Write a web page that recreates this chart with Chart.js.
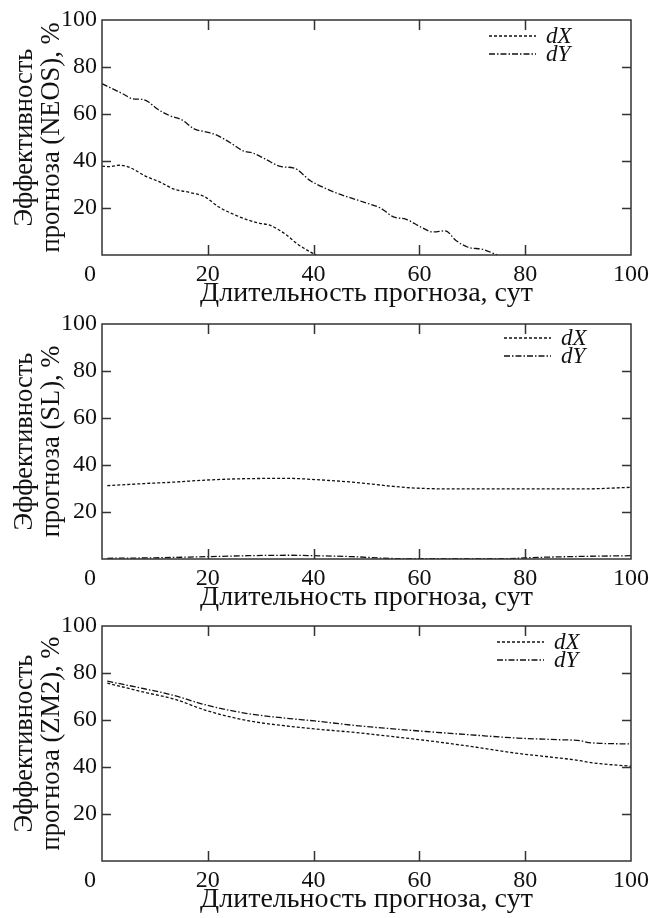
<!DOCTYPE html>
<html>
<head>
<meta charset="utf-8">
<script src="https://cdn.jsdelivr.net/npm/chart.js@4"></script>
<style>
  body { margin: 0; background: #fff; width: 649px; height: 918px; position: relative; overflow: hidden; }
  canvas { position: absolute; left: 0; }
</style>
</head>
<body>
<canvas id="neosChart" width="649" height="312" style="top:0"></canvas>
<canvas id="slChart" width="649" height="312" style="top:304px"></canvas>
<canvas id="zm2Chart" width="649" height="312" style="top:606px"></canvas>
<script>
// tick values and labels
const xTicks = [0, 20, 40, 60, 80, 100];
const yTicks = [20, 40, 60, 80, 100];
const seriesLabels = ["dX", "dY"];
const xTitle = "Длительность прогноза, сут";

// NEOS panel
const neosDxDays = [0, 1.5, 3.3, 5.7, 8, 11.1, 13.5, 16.6, 19.4, 22.1, 25.3, 27.6, 30, 31.6, 34.7, 37, 39.2, 40.5];
const neosDx = [37.8, 37.6, 38.2, 36.8, 33.8, 30.9, 28.1, 26.6, 24.8, 20.4, 16.9, 14.9, 13.4, 12.8, 8.8, 4.6, 1.5, 0];
const neosDyDays = [0, 4.1, 5.7, 7.6, 8.8, 10.4, 12.7, 15.1, 17.4, 19.8, 21.4, 24.1, 26.8, 28.4, 30.8, 33.9, 36.3, 39.4, 42.5, 44.9, 47.3, 49.6, 52.7, 55.1, 57.5, 60.2, 62.6, 64.9, 66.9, 69.2, 72, 74.7];
const neosDy = [72.9, 68.4, 66.5, 66.2, 65.1, 62.2, 59.4, 57.5, 53.7, 52.3, 51.3, 48, 44.2, 43.5, 40.9, 37.6, 37, 31.6, 28.1, 25.9, 24.1, 22.4, 19.9, 16.2, 15.2, 12, 9.8, 10.3, 6.2, 3.3, 2.4, 0];

// SL panel
const slDxDays = [1, 8, 13.5, 19.8, 27.6, 35.5, 40.2, 47.3, 55.1, 59.1, 66.9, 74.8, 82.7, 90.6, 100];
const slDx = [31.2, 32.1, 32.7, 33.6, 34.2, 34.3, 33.8, 32.7, 30.9, 30.2, 29.8, 29.8, 29.8, 29.8, 30.5];
const slDyDays = [1, 10, 19.8, 27.6, 35.5, 40.2, 47.3, 55.1, 63, 74.8, 82.7, 90.6, 100];
const slDy = [0.3, 0.5, 1.0, 1.4, 1.6, 1.4, 1.0, 0.2, 0.1, 0.1, 0.7, 1.1, 1.4];

// ZM2 panel
const zmDays = [1, 8, 13.5, 19.8, 27.6, 35.5, 40.2, 47.3, 55.1, 63, 70.8, 78.6, 86.5, 90.4, 92, 100];
const zmDx = [75.7, 71.8, 69.0, 64.0, 59.7, 57.3, 56.2, 54.8, 52.9, 50.8, 48.4, 45.8, 43.8, 42.7, 42.0, 40.3];
const zmDy = [76.5, 73.3, 70.5, 66.3, 62.7, 60.6, 59.6, 57.8, 56.2, 54.8, 53.5, 52.3, 51.6, 51.2, 50.4, 49.8];

const serif = "'Liberation Serif', 'Times New Roman', serif";
const ink = "#111";
const dashX = [3, 2];
const dashY = [6, 2, 1.5, 2];

function pts(days, vals) {
  return days.map((d, i) => ({ x: d, y: vals[i] }));
}

// frame with inward ticks on all four sides, plus the legend inside the plot
const frameLegend = {
  id: "frameLegend",
  afterDraw(chart, args, opts) {
    const { ctx, chartArea: a } = chart;
    const x = chart.scales.x, y = chart.scales.y;
    ctx.save();
    ctx.strokeStyle = "#333";
    ctx.lineWidth = 1.5;
    ctx.setLineDash([]);
    ctx.strokeRect(a.left, a.top, a.right - a.left, a.bottom - a.top);
    ctx.beginPath();
    xTicks.slice(1, -1).forEach((v) => {
      const px = Math.round(x.getPixelForValue(v)) + 0.5;
      ctx.moveTo(px, a.bottom); ctx.lineTo(px, a.bottom - 10);
      ctx.moveTo(px, a.top); ctx.lineTo(px, a.top + 10);
    });
    yTicks.slice(0, -1).forEach((v) => {
      const py = Math.round(y.getPixelForValue(v)) + 0.5;
      ctx.moveTo(a.left, py); ctx.lineTo(a.left + 9, py);
      ctx.moveTo(a.right, py); ctx.lineTo(a.right - 9, py);
    });
    ctx.stroke();

    // legend
    ctx.font = "italic 23px " + serif;
    ctx.textBaseline = "middle";
    ctx.fillStyle = ink;
    chart.data.datasets.forEach((ds, i) => {
      const ly = a.top + opts.top + i * 18;
      const lx = a.right - opts.right;
      ctx.strokeStyle = ink;
      ctx.lineWidth = 1.3;
      ctx.setLineDash(ds.borderDash);
      ctx.beginPath();
      ctx.moveTo(lx, ly); ctx.lineTo(lx + 47, ly);
      ctx.stroke();
      ctx.fillText(ds.label, lx + 57, ly + 1);
    });
    ctx.restore();
  },
};

function makeChart(id, name, dx, dy, legendPos) {
  return new Chart(document.getElementById(id), {
    type: "line",
    data: {
      datasets: [
        { label: seriesLabels[0], data: dx, borderColor: ink, borderWidth: 1.3, borderDash: dashX },
        { label: seriesLabels[1], data: dy, borderColor: ink, borderWidth: 1.3, borderDash: dashY },
      ],
    },
    options: {
      responsive: false,
      animation: false,
      events: [],
      layout: { padding: { top: 20, right: 18, left: 0, bottom: 0 } },
      elements: {
        point: { radius: 0 },
        line: { cubicInterpolationMode: "monotone", fill: false },
      },
      plugins: {
        legend: { display: false },
        tooltip: { enabled: false },
        frameLegend: legendPos,
      },
      scales: {
        x: {
          type: "linear",
          min: 0,
          max: 100,
          afterFit: (s) => {
            s.height = 57;
            s.paddingLeft = 0;
            s.paddingRight = 0;
          },
          afterBuildTicks: (s) => { s.ticks = xTicks.map((v) => ({ value: v })); },
          grid: { display: false, drawTicks: false },
          border: { display: false },
          ticks: {
            color: ink,
            padding: 5,
            maxRotation: 0,
            font: { family: serif, size: 24 },
            callback: (v) => (v === 0 ? "0    " : String(v)),
          },
          title: {
            display: true,
            text: xTitle,
            color: ink,
            font: { family: serif, size: 28 },
            padding: { top: 0, bottom: 2 },
          },
        },
        y: {
          min: 0,
          max: 100,
          afterFit: (s) => { s.width = 102; },
          afterBuildTicks: (s) => { s.ticks = yTicks.map((v) => ({ value: v })); },
          grid: { display: false, drawTicks: false },
          border: { display: false },
          ticks: {
            color: ink,
            padding: 5,
            font: { family: serif, size: 24 },
          },
          title: {
            display: true,
            text: ["Эффективность", "прогноза (" + name + "), %"],
            color: ink,
            font: { family: serif, size: 26.5, lineHeight: 1.02 },
            padding: { top: 12, bottom: 0 },
          },
        },
      },
    },
    plugins: [frameLegend],
  });
}

makeChart("neosChart", "NEOS", pts(neosDxDays, neosDx), pts(neosDyDays, neosDy), { top: 16, right: 142 });
makeChart("slChart", "SL", pts(slDxDays, slDx), pts(slDyDays, slDy), { top: 14, right: 127 });
makeChart("zm2Chart", "ZM2", pts(zmDays, zmDx), pts(zmDays, zmDy), { top: 16, right: 134 });
</script>
</body>
</html>
